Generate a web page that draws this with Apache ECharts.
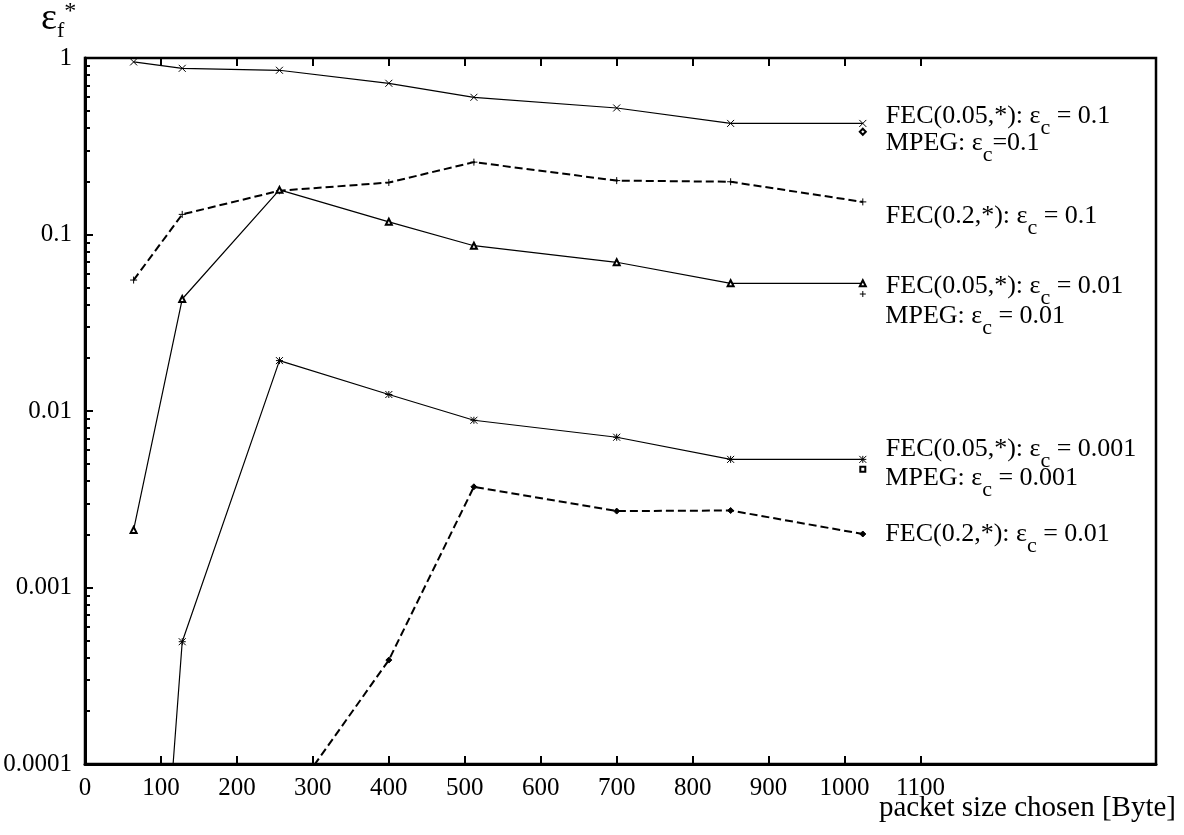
<!DOCTYPE html>
<html>
<head>
    <meta charset="utf-8">
    <title>packet size vs frame error</title>
    <script src="https://cdn.jsdelivr.net/npm/echarts@6/dist/echarts.min.js"></script>
    <style>
        html, body { margin: 0; padding: 0; background: #fff; }
    </style>
</head>
<body>
    <div id="main" style="width: 1184px;height:835px;"></div>

    <script>
        // packet sizes (Byte)
        var packetSizes = [64, 128, 256, 400, 512, 700, 850, 1024]
        // FEC(0.2,*) eps_c = 0.01 only starts to show from 256 on
        var packetSizesLate = [256, 400, 512, 700, 850, 1024]

        // eps_f* values
        var fec005_c01 = [0.95, 0.874, 0.852, 0.719, 0.599, 0.521, 0.426, 0.426]
        var fec02_c01 = [0.0552, 0.130, 0.177, 0.197, 0.257, 0.202, 0.199, 0.153]
        var fec005_c001 = [0.00212, 0.0431, 0.179, 0.118, 0.0864, 0.0696, 0.0529, 0.0529]
        var fec005_c0001 = [1e-7, 0.000493, 0.0193, 0.0124, 0.00886, 0.0071, 0.00532, 0.00532]
        var fec02_c001 = [5.2e-5, 0.000388, 0.00372, 0.00271, 0.00273, 0.00201]

        // single MPEG points at 1024 Byte
        var mpegX = 1024
        var mpeg_c01 = 0.382
        var mpeg_c001 = 0.046
        var mpeg_c0001 = 0.00468

        // tick labels of the x axis
        var xTickValues = [0, 100, 200, 300, 400, 500, 600, 700, 800, 900, 1000, 1100]

        // minor log ticks (2..9 per decade), in log10 units
        var minorTicks = []
        for (var d = -4; d < 0; d++) {
            for (var k = 2; k <= 9; k++) {
                minorTicks.push(d + Math.log10(k))
            }
        }

        var SYM_X = 'path://M0,0L10,10M10,0L0,10'
        var SYM_PLUS = 'path://M5,0L5,10M0,5L10,5'
        var SYM_STAR = 'path://M0,0L10,10M10,0L0,10M5,0L5,10M0,5L10,5'

        var serif = '"Liberation Serif", "DejaVu Serif", serif'

        // rich styles for "eps_c" in the labels (c is a subscript)
        var labelRich = {
            m: { fontFamily: serif, fontSize: 26, lineHeight: 26, verticalAlign: 'top', color: '#000' },
            s: { fontFamily: serif, fontSize: 22, lineHeight: 36, verticalAlign: 'bottom', color: '#000' }
        }

        function pairs(xs, ys) {
            return xs.map(function (x, i) { return [x, ys[i]] })
        }

        function lineSeries(name, xs, ys, symbol, size, dashed, text, dy) {
            var last = ys.length - 1
            return {
                name: name,
                type: 'line',
                data: pairs(xs, ys),
                symbol: symbol,
                symbolSize: size,
                clip: true,
                lineStyle: dashed
                    ? { color: '#000', width: 2, type: [8, 4] }
                    : { color: '#000', width: 1.2 },
                itemStyle: { color: '#000', borderColor: '#000', borderWidth: 1, opacity: 1 },
                label: {
                    show: true,
                    position: 'right',
                    distance: 19,
                    offset: [0, dy],
                    color: '#000',
                    rich: labelRich,
                    formatter: function (p) { return p.dataIndex === last ? text : '' }
                },
                emphasis: { disabled: true }
            }
        }

        function pointSeries(name, y, symbol, size, text, dy) {
            return {
                name: name,
                type: 'scatter',
                data: [[mpegX, y]],
                symbol: symbol,
                symbolSize: size,
                itemStyle: { color: '#000', borderColor: '#000', borderWidth: 1, opacity: 1 },
                label: {
                    show: true,
                    position: 'right',
                    distance: 19,
                    offset: [0, dy],
                    color: '#000',
                    rich: labelRich,
                    formatter: text
                },
                emphasis: { disabled: true }
            }
        }

        var myChart = echarts.init(document.getElementById('main'), null, { renderer: 'canvas' })

        var option = {
            animation: false,
            backgroundColor: '#fff',
            title: [{
                // y axis name: eps_f*
                left: 41,
                top: 0,
                padding: 0,
                text: '{e|ε}{f|f}{st|*}',
                textStyle: {
                    fontWeight: 'normal',
                    rich: {
                        e: { fontFamily: serif, fontWeight: 'normal', fontSize: 38, lineHeight: 38, verticalAlign: 'top', color: '#000' },
                        f: { fontFamily: serif, fontWeight: 'normal', fontSize: 22, lineHeight: 42, verticalAlign: 'bottom', color: '#000' },
                        st: { fontFamily: serif, fontWeight: 'normal', fontSize: 24, lineHeight: 24, verticalAlign: 'top', color: '#000' }
                    }
                }
            }, {
                // x axis name
                right: 8,
                top: 794,
                padding: 0,
                text: 'packet size chosen [Byte]',
                textStyle: { fontFamily: serif, fontSize: 29, fontWeight: 'normal', color: '#000' }
            }],
            grid: {
                left: 85,
                right: 28,
                top: 58,
                bottom: 71,
                show: true,
                borderColor: '#000',
                borderWidth: 2.5,
                backgroundColor: '#fff'
            },
            xAxis: [{
                type: 'value',
                position: 'bottom',
                min: 0,
                max: 1410,
                interval: 100,
                axisLine: { show: true, onZero: false, lineStyle: { color: '#000', width: 3 } },
                axisTick: { show: true, inside: true, length: 8, lineStyle: { color: '#000', width: 2 }, customValues: xTickValues },
                axisLabel: {
                    color: '#000', fontFamily: serif, fontSize: 25, margin: 12, customValues: xTickValues,
                    formatter: function (v) { return String(v) }
                },
                splitLine: { show: false }
            }, {
                // mirrored ticks on top
                type: 'value',
                position: 'top',
                min: 0,
                max: 1410,
                interval: 100,
                axisLine: { show: false },
                axisTick: { show: true, inside: true, length: 8, lineStyle: { color: '#000', width: 2 }, customValues: xTickValues },
                axisLabel: { show: false },
                splitLine: { show: false }
            }],
            yAxis: [{
                type: 'log',
                logBase: 10,
                min: 0.0001,
                max: 1,
                position: 'left',
                axisLine: { show: true, onZero: false, lineStyle: { color: '#000', width: 3 } },
                axisTick: { show: true, inside: true, length: 8, lineStyle: { color: '#000', width: 2 } },
                axisLabel: {
                    color: '#000', fontFamily: serif, fontSize: 25, margin: 13,
                    formatter: function (v) { return String(+(+v).toPrecision(1)) }
                },
                splitLine: { show: false }
            }, {
                // minor log ticks
                type: 'value',
                min: -4,
                max: 0,
                position: 'left',
                axisLine: { show: false },
                axisTick: { show: true, inside: true, length: 5, lineStyle: { color: '#000', width: 2 }, customValues: minorTicks },
                axisLabel: { show: false },
                splitLine: { show: false }
            }],
            series: [
                lineSeries('FEC(0.05,*) eps_c=0.1', packetSizes, fec005_c01, SYM_X, 7, false,
                    '{m|FEC(0.05,*): ε}{s|c}{m| = 0.1}', -2),
                lineSeries('FEC(0.2,*) eps_c=0.1', packetSizes, fec02_c01, SYM_PLUS, 7, true,
                    '{m|FEC(0.2,*): ε}{s|c}{m| = 0.1}', 19),
                lineSeries('FEC(0.05,*) eps_c=0.01', packetSizes, fec005_c001, 'emptyTriangle', 6, false,
                    '{m|FEC(0.05,*): ε}{s|c}{m| = 0.01}', 8),
                lineSeries('FEC(0.05,*) eps_c=0.001', packetSizes, fec005_c0001, SYM_STAR, 7, false,
                    '{m|FEC(0.05,*): ε}{s|c}{m| = 0.001}', -5),
                lineSeries('FEC(0.2,*) eps_c=0.01', packetSizesLate, fec02_c001, 'diamond', 6, true,
                    '{m|FEC(0.2,*): ε}{s|c}{m| = 0.01}', 5),
                pointSeries('MPEG eps_c=0.1', mpeg_c01, 'emptyDiamond', 6,
                    '{m|MPEG: ε}{s|c}{m|=0.1}', 16),
                pointSeries('MPEG eps_c=0.01', mpeg_c001, SYM_PLUS, 6,
                    '{m|MPEG: ε}{s|c}{m| = 0.01}', 27),
                pointSeries('MPEG eps_c=0.001', mpeg_c0001, 'emptyRect', 5,
                    '{m|MPEG: ε}{s|c}{m| = 0.001}', 14)
            ]
        }

        myChart.setOption(option)
    </script>
</body>
</html>
